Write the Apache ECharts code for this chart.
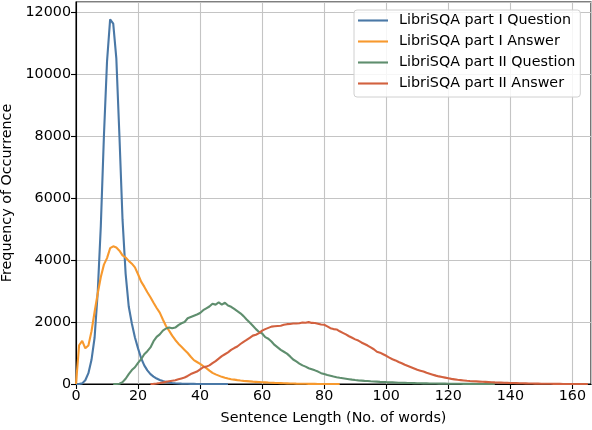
<!DOCTYPE html>
<html>
<head>
<meta charset="utf-8">
<script src="https://cdn.jsdelivr.net/npm/echarts@6/dist/echarts.min.js"></script>
<style>
html,body{margin:0;padding:0;background:#fff;}
#chart{width:592px;height:430px;}
</style>
</head>
<body>
<div id="chart"></div>
<script>
// Series names
const seriesNames = [
  'LibriSQA part I Question',
  'LibriSQA part I Answer',
  'LibriSQA part II Question',
  'LibriSQA part II Answer'
];
// tick labels
const xTicks = [0, 20, 40, 60, 80, 100, 120, 140, 160];
const yTicks = [0, 2000, 4000, 6000, 8000, 10000, 12000];

// Counts per sentence length; each array starts at its *Start length (1 word step)
const partIQuestionStart = 0;
const partIQuestion = [
  0, 0, 20, 120, 350, 780, 1500, 2950, 5100, 8000,
  10400, 11760, 11620, 10500, 8000, 5300, 3550, 2500, 1950, 1500,
  1150, 830, 600, 440, 320, 240, 175, 130, 95, 68,
  48, 34, 24, 17, 12, 8, 6, 4, 3, 2,
  1, 1, 0, 0, 0, 0, 0, 0, 0, 0
];

const partIAnswerStart = 0;
const partIAnswer = [
  0, 1250, 1390, 1150, 1240, 1700, 2330, 2920, 3450, 3850,
  4060, 4380, 4440, 4400, 4300, 4150, 4080, 3970, 3880, 3760,
  3540, 3300, 3140, 2960, 2800, 2620, 2450, 2300, 2080, 1870,
  1720, 1560, 1420, 1300, 1200, 1100, 1000, 880, 770, 710,
  650, 580, 510, 430, 360, 310, 270, 230, 200, 175,
  155, 140, 125, 112, 100, 92, 84, 76, 70, 64,
  58, 52, 46, 41, 36, 32, 28, 24, 21, 18,
  15, 12, 10, 8, 6, 5, 4, 3, 2, 1,
  1, 0, 0, 0, 0, 0
];

const partIIQuestionStart = 12;
const partIIQuestion = [
  0, 0, 10, 60, 170, 320, 450, 540, 680, 800,
  960, 1060, 1180, 1380, 1520, 1600, 1720, 1790, 1820, 1800,
  1820, 1900, 1960, 2000, 2120, 2160, 2200, 2240, 2290, 2380,
  2440, 2500, 2590, 2560, 2630, 2560, 2620, 2530, 2490, 2420,
  2350, 2280, 2190, 2080, 1980, 1880, 1770, 1680, 1630, 1510,
  1460, 1370, 1260, 1180, 1100, 1040, 980, 890, 790, 730,
  660, 600, 560, 510, 475, 440, 400, 350, 320, 290,
  265, 240, 218, 200, 185, 170, 155, 140, 128, 118,
  110, 102, 95, 88, 82, 76, 70, 65, 60, 56,
  52, 47, 42, 39, 36, 33, 30, 28, 25, 23,
  21, 19, 17, 15, 14, 13, 12, 11, 10, 9,
  8, 7, 6, 5, 4, 3, 3, 2, 2, 1,
  1, 0, 0, 0
];

const partIIAnswerStart = 24;
const partIIAnswer = [
  0, 5, 15, 30, 50, 70, 90, 105, 120, 150,
  180, 210, 260, 320, 360, 400, 470, 540, 560, 600,
  670, 740, 820, 900, 960, 1020, 1100, 1160, 1210, 1290,
  1360, 1420, 1490, 1560, 1590, 1640, 1720, 1770, 1810, 1850,
  1860, 1870, 1880, 1910, 1930, 1935, 1950, 1950, 1960, 1985,
  1975, 1995, 1970, 1965, 1945, 1920, 1910, 1860, 1800, 1770,
  1760, 1700, 1650, 1600, 1540, 1490, 1440, 1400, 1340, 1290,
  1240, 1180, 1120, 1040, 1010, 960, 910, 850, 800, 760,
  710, 670, 620, 580, 540, 500, 460, 430, 400, 360,
  330, 300, 270, 245, 225, 205, 185, 165, 150, 135,
  125, 115, 105, 97, 90, 84, 78, 72, 67, 62,
  57, 52, 48, 44, 40, 37, 34, 31, 28, 25,
  22, 20, 17, 15, 13, 11, 9, 8, 7, 6,
  5, 4, 3, 2, 2, 1, 1, 1, 1, 1,
  0, 0
];

const colors = ['#4a78a6', '#f7992e', '#5f8e6e', '#d2613f'];

function toPoints(start, arr) {
  return arr.map((v, i) => [start + i, v]);
}
const seriesData = [
  toPoints(partIQuestionStart, partIQuestion),
  toPoints(partIAnswerStart, partIAnswer),
  toPoints(partIIQuestionStart, partIIQuestion),
  toPoints(partIIAnswerStart, partIIAnswer)
];

const FONT = 'DejaVu Sans';
const FS = 14.3;

const chart = echarts.init(document.getElementById('chart'), null, {renderer: 'canvas'});
chart.setOption({
  animation: false,
  backgroundColor: '#fff',
  color: colors,
  textStyle: {fontFamily: FONT},
  grid: {
    left: 76, right: 1, top: 2, bottom: 46,
    containLabel: false,
    outerBoundsMode: 'none',
    show: true, borderColor: '#000', borderWidth: 1.1, backgroundColor: 'transparent'
  },
  legend: {
    orient: 'vertical',
    left: 354, top: 10,
    padding: [3.5, 5, 6.5, 4],
    itemGap: 7,
    itemWidth: 30,
    itemHeight: 2.1,
    icon: 'rect',
    backgroundColor: 'rgba(255,255,255,0.85)',
    borderColor: '#d0d0d0',
    borderWidth: 1,
    borderRadius: 3,
    data: seriesNames,
    formatter: n => '{a|' + n + '}',
    textStyle: {
      fontFamily: FONT, fontSize: FS, color: '#000', lineHeight: 14,
      rich: {a: {fontFamily: FONT, fontSize: FS, color: '#000', padding: [0, 0, 0, 6], lineHeight: 14}}
    }
  },
  xAxis: {
    type: 'value', min: 0, max: 166, interval: 20,
    name: 'Sentence Length (No. of words)',
    nameLocation: 'middle', nameGap: 27,
    nameTextStyle: {fontFamily: FONT, fontSize: FS, color: '#000'},
    axisLine: {show: true, onZero: false, lineStyle: {color: '#000', width: 1.1}},
    axisTick: {show: true, length: 5, lineStyle: {color: '#000', width: 1.1}},
    axisLabel: {
      fontFamily: FONT, fontSize: FS, color: '#000', margin: 5,
      showMaxLabel: false,
      formatter: v => (xTicks.indexOf(v) >= 0 ? String(v) : '')
    },
    splitLine: {show: true, lineStyle: {color: '#c4c4c4', width: 1.1}}
  },
  yAxis: {
    type: 'value', min: 0, max: 12320, interval: 2000,
    name: 'Frequency of Occurrence',
    nameLocation: 'middle', nameGap: 60,
    nameTextStyle: {fontFamily: FONT, fontSize: FS, color: '#000'},
    axisLine: {show: true, lineStyle: {color: '#000', width: 1.1}},
    axisTick: {show: true, length: 5, lineStyle: {color: '#000', width: 1.1}},
    axisLabel: {
      fontFamily: FONT, fontSize: FS, color: '#000', margin: 5,
      showMaxLabel: false,
      formatter: v => (yTicks.indexOf(v) >= 0 ? String(v) : '')
    },
    splitLine: {show: true, lineStyle: {color: '#c4c4c4', width: 1.1}}
  },
  series: seriesNames.map((name, i) => ({
    name: name,
    type: 'line',
    data: seriesData[i],
    symbol: 'none',
    showSymbol: false,
    smooth: false,
    clip: true,
    lineStyle: {width: 2.1, color: colors[i]},
    itemStyle: {color: colors[i]},
    z: 2 + i
  }))
});
</script>
</body>
</html>
